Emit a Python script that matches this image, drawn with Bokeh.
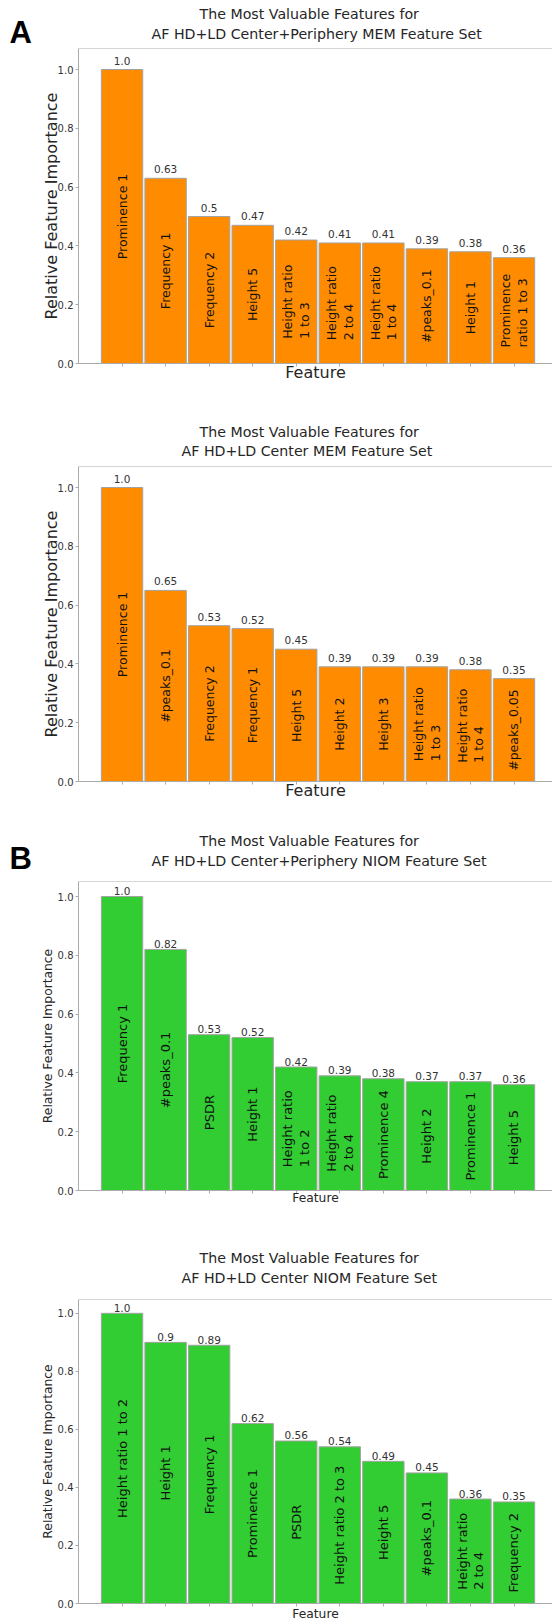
from bokeh.plotting import figure
from bokeh.models import ColumnDataSource, LabelSet, Span, FixedTicker, Range1d, PrintfTickFormatter, Title
from bokeh.layouts import column, row
from bokeh.core.properties import value
from bokeh.embed import file_html
from bokeh.resources import INLINE

# ---------------- data ----------------
a1_features = ["Prominence 1", "Frequency 1", "Frequency 2", "Height 5", "Height ratio\n1 to 3",
               "Height ratio\n2 to 4", "Height ratio\n1 to 4", "#peaks_0.1", "Height 1", "Prominence\nratio 1 to 3"]
a1_values = [1.0, 0.63, 0.5, 0.47, 0.42, 0.41, 0.41, 0.39, 0.38, 0.36]
a1_title = ["The Most Valuable Features for", "AF HD+LD Center+Periphery MEM Feature Set"]

a2_features = ["Prominence 1", "#peaks_0.1", "Frequency 2", "Frequency 1", "Height 5", "Height 2",
               "Height 3", "Height ratio\n1 to 3", "Height ratio\n1 to 4", "#peaks_0.05"]
a2_values = [1.0, 0.65, 0.53, 0.52, 0.45, 0.39, 0.39, 0.39, 0.38, 0.35]
a2_title = ["The Most Valuable Features for", "AF HD+LD Center MEM Feature Set"]

b1_features = ["Frequency 1", "#peaks_0.1", "PSDR", "Height 1", "Height ratio\n1 to 2", "Height ratio\n2 to 4",
               "Prominence 4", "Height 2", "Prominence 1", "Height 5"]
b1_values = [1.0, 0.82, 0.53, 0.52, 0.42, 0.39, 0.38, 0.37, 0.37, 0.36]
b1_title = ["The Most Valuable Features for", "AF HD+LD Center+Periphery NIOM Feature Set"]

b2_features = ["Height ratio 1 to 2", "Height 1", "Frequency 1", "Prominence 1", "PSDR", "Height ratio 2 to 3",
               "Height 5", "#peaks_0.1", "Height ratio\n2 to 4", "Frequency 2"]
b2_values = [1.0, 0.9, 0.89, 0.62, 0.56, 0.54, 0.49, 0.45, 0.36, 0.35]
b2_title = ["The Most Valuable Features for", "AF HD+LD Center NIOM Feature Set"]

y_ticks = [0.0, 0.2, 0.4, 0.6, 0.8, 1.0]

# ---------------- style ----------------
FONT = "DejaVu Sans"
ORANGE = "#FF8C00"
GREEN = "#32CD32"
EDGE = "#a3a3a3"
FRAME = "#ababab"
DARK = "#262626"
W = 552
FRAME_L = 78          # page x of the axes frame
LETTER_W = 36         # width of the panel-letter strip
PX_X = 43.55
PX_Y = 294.0
X_START = -1.0
X_END = X_START + (W - FRAME_L) / PX_X


def letter_strip(ch, height, standoff):
    q = figure(width=LETTER_W, height=height, output_backend="svg", toolbar_location=None,
               min_border=0, x_axis_location=None, y_axis_location=None,
               x_range=Range1d(0, 1), y_range=Range1d(0, 1))
    q.outline_line_color = None
    q.xgrid.visible = False
    q.ygrid.visible = False
    q.add_layout(Title(text=ch, align="left", offset=9, standoff=standoff,
                       text_font="Liberation Sans", text_font_style="bold",
                       text_font_size="31px", text_color="black"), "above")
    return q


def make_panel(features, values, color, title, cfg):
    height, btop, fh = cfg["height"], cfg["btop"], cfg["fh"]
    ymax = fh / PX_Y
    fig_w = W - (LETTER_W if cfg.get("letter") else 0)
    border_l = FRAME_L - (W - fig_w)
    p = figure(width=fig_w, height=height, output_backend="svg", toolbar_location=None,
               min_border_left=border_l, min_border_right=0, min_border_top=btop,
               min_border_bottom=height - btop - fh,
               x_range=Range1d(X_START, X_END), y_range=Range1d(0, ymax))
    p.outline_line_color = None
    p.xgrid.visible = False
    p.ygrid.visible = False

    xs = list(range(len(features)))
    src = ColumnDataSource(dict(
        x=xs, top=values, mid=[v / 2 for v in values],
        name=features, lbl=[str(v) for v in values]))
    p.vbar(x="x", top="top", width=0.95, source=src, fill_color=color, line_color=EDGE, line_width=1)

    p.add_layout(LabelSet(x="x", y="mid", text="name", source=src, angle=1.5707963,
                          text_align="center", text_baseline="middle",
                          text_font=value(FONT), text_font_size=cfg["inner_fs"],
                          text_color="#111111", text_line_height=1.1))
    p.add_layout(LabelSet(x="x", y="top", text="lbl", source=src, y_offset=cfg["val_off"],
                          text_align="center", text_baseline="alphabetic",
                          text_font=value(FONT), text_font_size="10.5px", text_color="#333333"))

    p.add_layout(Span(location=ymax, dimension="width", line_color=FRAME, line_width=1))

    xa = p.xaxis[0]
    xa.ticker = FixedTicker(ticks=[], minor_ticks=xs)
    xa.major_tick_line_color = None
    xa.minor_tick_in = 0
    xa.minor_tick_out = 3
    xa.minor_tick_line_color = FRAME
    xa.axis_line_color = FRAME
    xa.axis_label = "Feature"
    xa.axis_label_text_font = FONT
    xa.axis_label_text_font_style = "normal"
    xa.axis_label_text_font_size = cfg["lab_fs"]
    xa.axis_label_text_color = DARK
    xa.axis_label_standoff = cfg["xlab_off"]

    ya = p.yaxis[0]
    ya.ticker = FixedTicker(ticks=y_ticks)
    ya.formatter = PrintfTickFormatter(format="%.1f")
    ya.major_label_text_font = FONT
    ya.major_label_text_font_size = "10px"
    ya.major_label_text_color = "#333333"
    ya.major_label_standoff = 2
    ya.major_tick_in = 0
    ya.major_tick_out = 3
    ya.minor_tick_line_color = None
    ya.major_tick_line_color = FRAME
    ya.axis_line_color = FRAME
    ya.axis_label = "Relative Feature Importance"
    ya.axis_label_text_font = FONT
    ya.axis_label_text_font_style = "normal"
    ya.axis_label_text_font_size = cfg["lab_fs"]
    ya.axis_label_text_color = DARK
    ya.axis_label_standoff = cfg["ylab_off"]

    (l1, s1), (l2, s2) = cfg["title_pos"]
    p.add_layout(Title(text=title[1], align="left", offset=l2 - FRAME_L, standoff=s2, vertical_align="top",
                       text_font=FONT, text_font_size="14.2px", text_font_style="normal",
                       text_color=DARK), "above")
    p.add_layout(Title(text=title[0], align="left", offset=l1 - FRAME_L, standoff=s1,
                       text_font=FONT, text_font_size="14.2px", text_font_style="normal",
                       text_color=DARK), "above")

    if cfg.get("letter"):
        ch, s = cfg["letter"]
        return row(letter_strip(ch, height, s), p, spacing=0)
    return p


cfgA1 = dict(height=415, btop=48, fh=315, inner_fs="12.5px", lab_fs="16px", val_off=5,
             xlab_off=-4, ylab_off=-6, title_pos=[(199, -3), (151, 10)], letter=("A", -3))
cfgA2 = dict(height=400, btop=51, fh=315, inner_fs="12.5px", lab_fs="16px", val_off=5,
             xlab_off=-4, ylab_off=-6, title_pos=[(199, -4), (181, 11)])
cfgB1 = dict(height=420, btop=66, fh=309, inner_fs="13px", lab_fs="12.3px", val_off=1.5,
             xlab_off=-3, ylab_off=0, title_pos=[(199, -14), (151, 22)], letter=("B", 12))
cfgB2 = dict(height=388, btop=64, fh=308, inner_fs="13px", lab_fs="12.3px", val_off=1.5,
             xlab_off=0, ylab_off=0, title_pos=[(199, -15), (181, 23)])

pA1 = make_panel(a1_features, a1_values, ORANGE, a1_title, cfgA1)
pA2 = make_panel(a2_features, a2_values, ORANGE, a2_title, cfgA2)
pB1 = make_panel(b1_features, b1_values, GREEN, b1_title, cfgB1)
pB2 = make_panel(b2_features, b2_values, GREEN, b2_title, cfgB2)

layout = column(pA1, pA2, pB1, pB2, spacing=0)
open("out.html", "w").write(file_html(layout, INLINE))
